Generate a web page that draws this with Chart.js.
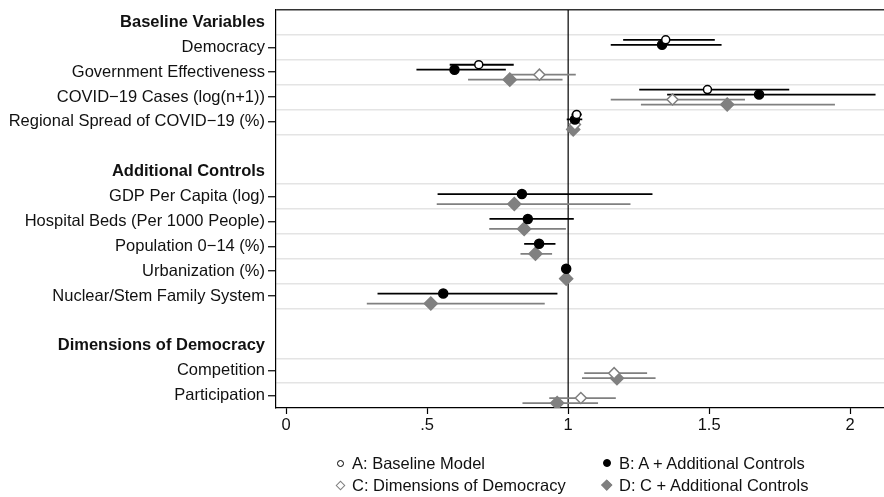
<!DOCTYPE html>
<html>
<head>
<meta charset="utf-8">
<script src="https://cdn.jsdelivr.net/npm/chart.js@4.4.1/dist/chart.umd.min.js"></script>
<style>
  html, body { margin: 0; padding: 0; background: #fff; }
  #wrap { position: relative; width: 884px; height: 497px; }
  #legend {
    position: absolute; left: 334px; top: 452px;
    display: grid; grid-template-columns: 267px 270px; grid-auto-rows: 22px;
    font: 16.5px "Liberation Sans", Arial, sans-serif; color: #111;
  }
  .item { display: flex; align-items: center; white-space: nowrap; }
  .mk { width: 12px; height: 12px; margin-right: 6px; position: relative; }
  .mk span { position: absolute; box-sizing: border-box; }
</style>
</head>
<body>
<div id="wrap">
  <canvas id="myChart" width="884" height="497"></canvas>
  <div id="legend"></div>
</div>
<script>
// rows of the plot, top to bottom
const rowLabels = [
  'Baseline Variables', 'Democracy', 'Government Effectiveness', 'COVID\u221219 Cases (log(n+1))',
  'Regional Spread of COVID\u221219 (%)', '',
  'Additional Controls', 'GDP Per Capita (log)', 'Hospital Beds (Per 1000 People)', 'Population 0\u221214 (%)',
  'Urbanization (%)', 'Nuclear/Stem Family System', '',
  'Dimensions of Democracy', 'Competition', 'Participation'
]
const headerRows = [0, 6, 13]
const gridRows = [0.5, 1.5, 2.5, 3.5, 4.5, 6.5, 7.5, 8.5, 9.5, 10.5, 11.5, 13.5, 14.5]

const xTicks = [0, 0.5, 1, 1.5, 2]
const xTickLabels = ['0', '.5', '1', '1.5', '2']

const seriesNames = ['A: Baseline Model', 'B: A + Additional Controls', 'C: Dimensions of Democracy', 'D: C + Additional Controls']

// A: Baseline Model
const rowsA = [1, 2, 3, 4]
const estA = [1.346, 0.683, 1.494, 1.030]
const loA  = [1.195, 0.580, 1.252, 1.012]
const hiA  = [1.520, 0.807, 1.784, 1.048]

// B: A + Additional Controls
const rowsB = [1, 2, 3, 4, 7, 8, 9, 10, 11]
const estB = [1.333, 0.597, 1.677, 1.024, 0.836, 0.857, 0.897, 0.993, 0.557]
const loB  = [1.151, 0.462, 1.351, 0.995, 0.537, 0.721, 0.844, 0.988, 0.324]
const hiB  = [1.544, 0.779, 2.090, 1.050, 1.299, 1.020, 0.955, 0.998, 0.962]

// C: Dimensions of Democracy
const rowsC = [2, 3, 4, 14, 15]
const estC = [0.898, 1.370, 1.024, 1.163, 1.045]
const loC  = [0.789, 1.151, 1.010, 1.057, 0.933]
const hiC  = [1.027, 1.627, 1.034, 1.280, 1.169]

// D: C + Additional Controls
const rowsD = [2, 3, 4, 7, 8, 9, 10, 11, 14, 15]
const estD = [0.793, 1.564, 1.018, 0.809, 0.844, 0.884, 0.993, 0.513, 1.173, 0.961]
const loD  = [0.645, 1.258, 1.005, 0.534, 0.720, 0.831, 0.988, 0.286, 1.049, 0.838]
const hiD  = [0.980, 1.946, 1.030, 1.221, 0.992, 0.943, 0.998, 0.917, 1.310, 1.106]

const FONT = '"Liberation Sans", Arial, sans-serif'
const GRAY = '#808080'

const series = [
  { rows: rowsA, est: estA, lo: loA, hi: hiA, off: -0.3, color: '#000', style: 'circle', radius: 4, fill: '#fff' },
  { rows: rowsB, est: estB, lo: loB, hi: hiB, off: -0.1, color: '#000', style: 'circle', radius: 4.5, fill: '#000' },
  { rows: rowsC, est: estC, lo: loC, hi: hiC, off: 0.1, color: GRAY, style: 'rectRot', radius: 5.5, fill: '#fff' },
  { rows: rowsD, est: estD, lo: loD, hi: hiD, off: 0.3, color: GRAY, style: 'rectRot', radius: 6.5, fill: GRAY }
]

const markerSets = series.map((s, k) => ({
  label: seriesNames[k],
  data: s.rows.map((r, i) => ({ x: s.est[i], y: r + s.off })),
  pointStyle: s.style,
  pointRadius: s.radius,
  pointBackgroundColor: s.fill,
  pointBorderColor: s.color,
  pointBorderWidth: 1.5,
  showLine: false,
  order: 0
}))

const ciSets = series.map((s, k) => ({
  label: seriesNames[k] + ' CI',
  data: s.rows.flatMap((r, i) => [
    { x: s.lo[i], y: r + s.off }, { x: s.hi[i], y: r + s.off }, { x: null, y: null }
  ]),
  showLine: true,
  spanGaps: false,
  borderColor: s.color,
  borderWidth: 1.8,
  pointRadius: 0,
  order: 1
}))

const refLine = {
  label: 'ref',
  data: [{ x: 1, y: -0.5 }, { x: 1, y: 15.5 }],
  showLine: true,
  borderColor: '#000',
  borderWidth: 1.2,
  pointRadius: 0,
  order: 2
}

const ctx = document.getElementById('myChart').getContext('2d')
const myChart = new Chart(ctx, {
  type: 'scatter',
  data: { datasets: [...markerSets, ...ciSets, refLine] },
  options: {
    responsive: false,
    animation: false,
    devicePixelRatio: 1,
    layout: { autoPadding: false, padding: { top: 10, right: 0, left: 0, bottom: 0 } },
    plugins: { legend: { display: false }, tooltip: { enabled: false } },
    scales: {
      x: {
        type: 'linear',
        min: -0.036,
        max: 2.12,
        afterBuildTicks: s => { s.ticks = xTicks.map(v => ({ value: v })) },
        afterFit: s => { s.height = 89; s.paddingLeft = 0; s.paddingRight = 0 },
        ticks: {
          callback: (v, i) => xTickLabels[i],
          font: { family: FONT, size: 16.5 },
          color: '#111',
          padding: 2
        },
        grid: { display: true, drawOnChartArea: false, tickLength: 6, tickColor: '#000', tickWidth: 1.2 },
        border: { display: true, color: '#000', width: 1.2 }
      },
      y: {
        type: 'linear',
        min: -0.5,
        max: 15.5,
        reverse: true,
        afterBuildTicks: s => {
          const vals = [-0.5, ...gridRows, ...rowLabels.map((_, i) => i)]
          s.ticks = vals.sort((a, b) => a - b).map(v => ({ value: v }))
        },
        afterFit: s => { s.width = 276; s.paddingTop = 0; s.paddingBottom = 0 },
        ticks: {
          autoSkip: false,
          padding: 3,
          color: '#111',
          callback: v => Number.isInteger(v) ? rowLabels[v] : '',
          font: c => ({ family: FONT, size: 16.5, weight: headerRows.includes(c.tick && c.tick.value) ? 'bold' : 'normal' })
        },
        grid: {
          tickLength: 8,
          tickWidth: 1.2,
          color: c => {
            const v = c.tick.value
            if (v === -0.5) return '#333'
            return gridRows.includes(v) ? '#e4e4e4' : 'rgba(0,0,0,0)'
          },
          lineWidth: c => c.tick.value === -0.5 ? 1.6 : 1.5,
          tickColor: c => {
            const v = c.tick.value
            return (Number.isInteger(v) && rowLabels[v] && !headerRows.includes(v)) ? '#000' : 'rgba(0,0,0,0)'
          }
        },
        border: { display: true, color: '#000', width: 1.2 }
      }
    }
  }
})

// html legend, 2 columns
const legend = document.getElementById('legend')
series.forEach((s, k) => {
  const item = document.createElement('div')
  item.className = 'item'
  const mk = document.createElement('div')
  mk.className = 'mk'
  const sh = document.createElement('span')
  if (s.style === 'circle') {
    const d = k === 0 ? 7 : 8
    Object.assign(sh.style, { width: d + 'px', height: d + 'px', left: (12 - d) / 2 + 'px', top: (12 - d) / 2 + 'px',
      borderRadius: '50%', border: '1.3px solid ' + s.color, background: s.fill })
  } else {
    const d = k === 2 ? 7 : 7.5
    Object.assign(sh.style, { width: d + 'px', height: d + 'px', left: (12 - d) / 2 + 'px', top: (12 - d) / 2 + 'px',
      transform: 'rotate(45deg)', border: '1.3px solid ' + s.color, background: s.fill })
  }
  mk.appendChild(sh)
  const txt = document.createElement('span')
  txt.textContent = seriesNames[k]
  item.appendChild(mk)
  item.appendChild(txt)
  legend.appendChild(item)
})
</script>
</body>
</html>
